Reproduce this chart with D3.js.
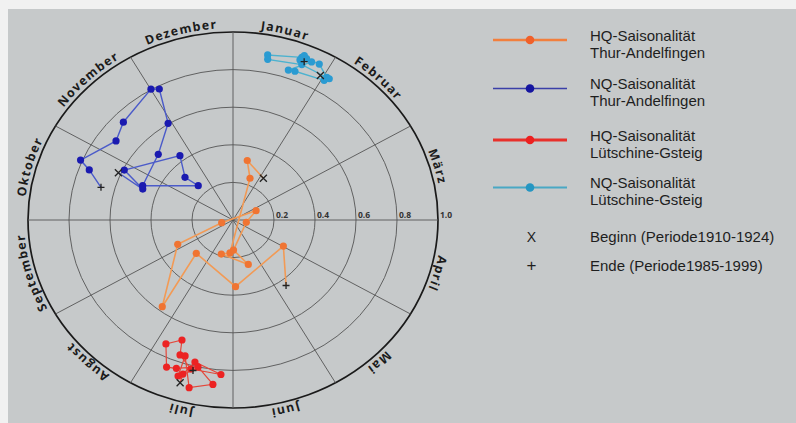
<!DOCTYPE html>
<html><head><meta charset="utf-8">
<script src="https://cdn.jsdelivr.net/npm/d3@7"></script>
<style>body{margin:0;background:#f1f1f1;} svg{display:block}</style>
</head><body><svg id="c" width="796" height="423"></svg>
<script>
const months = ["Januar","Februar","März","April","Mai","Juni","Juli","August","September","Oktober","November","Dezember"];
const ringTicks = [0.2, 0.4, 0.6, 0.8, 1.0];
// each point: [mean date as angle in degrees clockwise from 1 January, seasonality strength r]
// first point = Beginn (1910-1924), last point = Ende (1985-1999)
const hqThur = [[33.7,0.267],[12.4,0.324],[20.5,0.237],[184.8,0.176],[197.5,0.190],[162.5,0.248],[179.1,0.160],[100.6,0.066],[66.2,0.123],[255.4,0.057],[244.4,0.299],[216.8,0.576],[225.3,0.252],[178.0,0.355],[119.4,0.282],[143.4,0.434]];
const nqThur = [[294.2,0.613],[290.5,0.470],[296.6,0.593],[322.9,0.429],[314.1,0.326],[317.1,0.249],[292.5,0.477],[313.8,0.505],[328.4,0.604],[332.7,0.784],[330.1,0.803],[314.2,0.746],[306.4,0.709],[293.2,0.809],[290.8,0.750],[285.1,0.667]];
const hqLuet = [[196.6,0.903],[196.6,0.855],[193.8,0.778],[184.1,0.824],[194.5,0.819],[199.8,0.763],[201.3,0.685],[206.4,0.736],[202.5,0.847],[199.3,0.836],[192.3,0.800],[186.4,0.880],[193.5,0.917],[197.9,0.760],[197.9,0.872],[193.7,0.824]];
const nqLuet = [[29.0,0.879],[31.1,0.886],[26.9,0.930],[22.7,0.930],[21.2,0.928],[10.9,0.894],[11.2,0.871],[22.1,0.892],[32.0,0.886],[30.9,0.866],[20.9,0.847],[18.7,0.842],[24.5,0.924],[21.7,0.941],[21.0,0.912],[22.4,0.911]];
const seriesNames = [["HQ-Saisonalität","Thur-Andelfingen"],["NQ-Saisonalität","Thur-Andelfingen"],["HQ-Saisonalität","Lütschine-Gsteig"],["NQ-Saisonalität","Lütschine-Gsteig"]];
const markerNames = ["Beginn (Periode1910-1924)","Ende (Periode1985-1999)"];

const svg = d3.select("#c");
svg.append("rect").attr("x",8).attr("y",9).attr("width",788).attr("height",414).attr("fill","#c6c9ca");

const cx = 233, cy = 220;
const ang = d3.scaleLinear().domain([0,360]).range([0, 2*Math.PI]);
const rX = d3.scaleLinear().domain([0,1]).range([0,205]);
const rY = d3.scaleLinear().domain([0,1]).range([0,188]);
const px = d => cx + rX(d[1]) * Math.sin(ang(d[0]));
const py = d => cy - rY(d[1]) * Math.cos(ang(d[0]));

const g = svg.append("g");
// rings
g.selectAll("ellipse.ring").data(ringTicks).enter().append("ellipse")
  .attr("cx",cx).attr("cy",cy).attr("rx",d=>rX(d)).attr("ry",d=>rY(d))
  .attr("fill","none")
  .attr("stroke",d=>d===1?"#1a1a1a":"#555")
  .attr("stroke-width",d=>d===1?1.7:0.9);
// spokes
const spokes = d3.range(0,360,30);
g.selectAll("line.spoke").data(spokes).enter().append("line")
  .attr("x1",cx).attr("y1",cy)
  .attr("x2",d=>px([d,1])).attr("y2",d=>py([d,1]))
  .attr("stroke","#555").attr("stroke-width",0.9);
// tick labels
g.selectAll("text.tick").data(ringTicks).enter().append("text")
  .attr("x",d=>cx+rX(d)+2).attr("y",cy-2.5)
  .attr("font-family","Open Sans, Arial, sans-serif").attr("font-size",8.5).attr("font-weight",700)
  .attr("fill","#333").text(d=>d.toFixed(1));
// month labels along the outer ring
const off = 4;
const defs = svg.append("defs");
months.forEach((m,i)=>{
  const mid = 30*i+15;
  const a0 = ang(mid-55), a1 = ang(mid+55);
  const A = rX(1)+off, B = rY(1)+off;
  const x0 = cx + A*Math.sin(a0), y0 = cy - B*Math.cos(a0);
  const x1 = cx + A*Math.sin(a1), y1 = cy - B*Math.cos(a1);
  defs.append("path").attr("id","mp"+i).attr("d",`M${x0},${y0} A${A},${B} 0 0 1 ${x1},${y1}`);
  g.append("text").attr("font-family","Open Sans, Noto Sans, sans-serif").attr("font-size",12.3)
    .attr("font-weight",700).attr("letter-spacing",1.3).attr("fill","#1b1b1b")
    .append("textPath").attr("href","#mp"+i).attr("startOffset","50%").attr("text-anchor","middle").text(m);
});

const line = d3.line().x(px).y(py);
const specs = [
  {data:nqThur, line:"#4b5bc9", dot:"#1a1ab0", lw:1.4},
  {data:hqThur, line:"#f29a55", dot:"#f07432", lw:1.6},
  {data:nqLuet, line:"#4cb2cf", dot:"#2a9bd2", lw:1.4},
  {data:hqLuet, line:"#e4473a", dot:"#ec2323", lw:1.2}
];
specs.forEach(s=>{
  g.append("path").attr("d",line(s.data)).attr("fill","none").attr("stroke",s.line).attr("stroke-width",s.lw);
  g.selectAll(null).data(s.data.slice(1,-1)).enter().append("circle")
    .attr("cx",px).attr("cy",py).attr("r",3.6).attr("fill",s.dot);
});
// start (x) and end (+) markers
const mk = 3.5;
specs.forEach(s=>{
  const b = s.data[0], e = s.data[s.data.length-1];
  const bx = px(b), by = py(b), ex = px(e), ey = py(e);
  g.append("path").attr("d",`M${bx-mk},${by-mk}L${bx+mk},${by+mk}M${bx-mk},${by+mk}L${bx+mk},${by-mk}`)
    .attr("stroke","#222").attr("stroke-width",1.3);
  g.append("path").attr("d",`M${ex-mk},${ey}L${ex+mk},${ey}M${ex},${ey-mk}L${ex},${ey+mk}`)
    .attr("stroke","#222").attr("stroke-width",1.3);
});

// legend
const leg = svg.append("g");
const legY = [40, 88.5, 140, 187.5];
const legCol = [
  {line:"#f27f3d", dot:"#f0602a", lw:2.6},
  {line:"#3a3fa8", dot:"#1515a0", lw:1.6},
  {line:"#e8302b", dot:"#ec2020", lw:3},
  {line:"#49a8c4", dot:"#2596c2", lw:2}
];
seriesNames.forEach((nm,i)=>{
  const y = legY[i], c = legCol[i];
  leg.append("line").attr("x1",493).attr("x2",567).attr("y1",y).attr("y2",y).attr("stroke",c.line).attr("stroke-width",c.lw);
  leg.append("circle").attr("cx",530).attr("cy",y).attr("r",4.3).attr("fill",c.dot);
  nm.forEach((t,k)=>{
    leg.append("text").attr("x",590).attr("y",y+0.8+17*k)
      .attr("font-family","Liberation Sans, Arial, sans-serif").attr("font-size",15)
      .attr("fill","#1e1e1e").text(t);
  });
});
const mSym = ["X","+"];
const mY = [241.5, 270.5];
markerNames.forEach((t,i)=>{
  leg.append("text").attr("x",531.5).attr("y",mY[i]).attr("text-anchor","middle")
    .attr("font-family","Liberation Sans, Arial, sans-serif").attr("font-size",i===0?14:17)
    .attr("fill","#1e1e1e").text(mSym[i]);
  leg.append("text").attr("x",590).attr("y",mY[i])
    .attr("font-family","Liberation Sans, Arial, sans-serif").attr("font-size",15)
    .attr("fill","#1e1e1e").text(t);
});
</script></body></html>
